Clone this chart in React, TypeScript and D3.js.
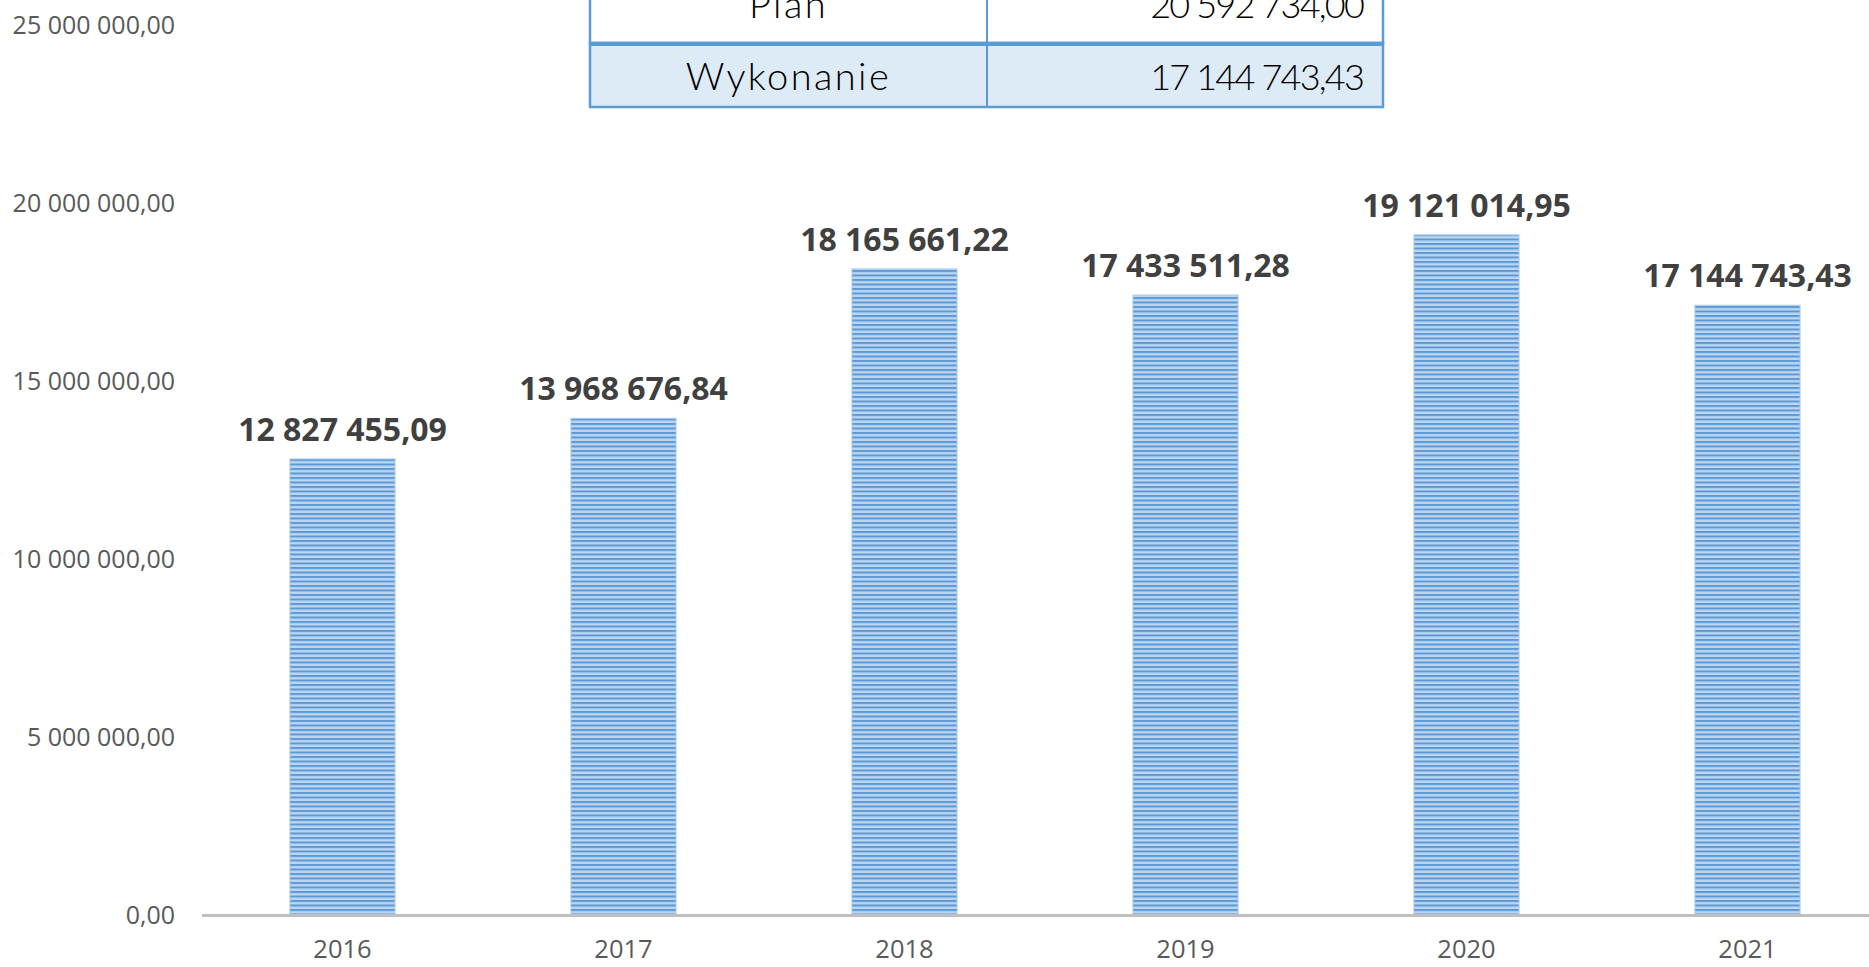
import React, { useEffect, useRef } from 'react';
import * as d3 from 'd3';

const years = ['2016', '2017', '2018', '2019', '2020', '2021'];
const values = [12827455.09, 13968676.84, 18165661.22, 17433511.28, 19121014.95, 17144743.43];
const yTicks = [0, 5000000, 10000000, 15000000, 20000000, 25000000];

const tableLabels = ['Plan', 'Wykonanie'];
const tableValues = [20592734.0, 17144743.43];

const pl = d3.formatLocale({ decimal: ',', thousands: ' ', grouping: [3], currency: ['', ' zł'] });
const fmt = pl.format(',.2f');

export default function App() {
  const svgRef = useRef<SVGSVGElement>(null);

  useEffect(() => {
    const svg = d3.select(svgRef.current);
    svg.selectAll('*').remove();

    const width = 1869;

    const x = d3.scaleBand<string>()
      .domain(years)
      .range([202, 1888])
      .paddingInner(0.626)
      .paddingOuter(0.313);

    const y = d3.scaleLinear()
      .domain([0, 25000000])
      .range([915.6, 25.6]);

    // striped fill like the original
    const defs = svg.append('defs');
    const pat = defs.append('pattern')
      .attr('id', 'stripes')
      .attr('patternUnits', 'userSpaceOnUse')
      .attr('width', 8)
      .attr('height', 4.5);
    pat.append('rect').attr('width', 8).attr('height', 4.5).attr('fill', '#bcd6f0');
    pat.append('rect').attr('y', 0).attr('width', 8).attr('height', 2).attr('fill', '#5b98d5');

    // y tick labels
    svg.append('g')
      .selectAll('text')
      .data(yTicks)
      .enter()
      .append('text')
      .attr('x', 175)
      .attr('y', (d) => y(d))
      .attr('dy', '0.35em')
      .attr('text-anchor', 'end')
      .attr('font-family', '"Open Sans", sans-serif')
      .attr('font-size', 25)
      .attr('fill', '#595959')
      .text((d) => fmt(d));

    // bars
    svg.append('g')
      .selectAll('rect')
      .data(values)
      .enter()
      .append('rect')
      .attr('x', (d, i) => x(years[i])!)
      .attr('y', (d) => y(d))
      .attr('width', x.bandwidth())
      .attr('height', (d) => y(0) - y(d))
      .attr('fill', 'url(#stripes)')
      .attr('stroke', '#a9cbed')
      .attr('stroke-width', 1);

    // axis line
    svg.append('line')
      .attr('x1', 202)
      .attr('x2', width)
      .attr('y1', y(0))
      .attr('y2', y(0))
      .attr('stroke', '#bfbfbf')
      .attr('stroke-width', 3);

    // x labels
    svg.append('g')
      .selectAll('text')
      .data(years)
      .enter()
      .append('text')
      .attr('x', (d) => x(d)! + x.bandwidth() / 2)
      .attr('y', 958)
      .attr('text-anchor', 'middle')
      .attr('font-family', '"Open Sans", sans-serif')
      .attr('font-size', 25.5)
      .attr('fill', '#595959')
      .text((d) => d);

    // data labels
    svg.append('g')
      .selectAll('text')
      .data(values)
      .enter()
      .append('text')
      .attr('x', (d, i) => x(years[i])! + x.bandwidth() / 2)
      .attr('y', (d) => y(d) - 18)
      .attr('text-anchor', 'middle')
      .attr('font-family', '"Open Sans", sans-serif')
      .attr('font-weight', 700)
      .attr('font-size', 32)
      .attr('fill', '#404040')
      .text((d) => fmt(d));

    // table on top (cut at the top edge, as in the source)
    const tbl = svg.append('g');
    const colL = 590, colM = 987, colR = 1383;
    const rowTops = [-21, 43];
    const rowH = 64;
    const rowFills = ['#ffffff', '#ddebf7'];
    tableLabels.forEach((lab, i) => {
      tbl.append('rect')
        .attr('x', colL)
        .attr('y', rowTops[i])
        .attr('width', colR - colL)
        .attr('height', rowH)
        .attr('fill', rowFills[i])
        .attr('stroke', '#5b9bd5')
        .attr('stroke-width', 2.5);
      tbl.append('text')
        .attr('x', (colL + colM) / 2)
        .attr('y', i === 0 ? 18 : 90)
        .attr('text-anchor', 'middle')
        .attr('font-family', 'Lato, sans-serif')
        .attr('font-weight', 300)
        .attr('font-size', 38)
        .attr('letter-spacing', 2.4)
        .attr('fill', '#000')
        .text(lab);
      tbl.append('text')
        .attr('x', colR - 20)
        .attr('y', i === 0 ? 18 : 90)
        .attr('text-anchor', 'end')
        .attr('font-family', 'Lato, sans-serif')
        .attr('font-weight', 300)
        .attr('font-size', 36)
        .attr('letter-spacing', -1.8)
        .attr('fill', '#000')
        .text(fmt(tableValues[i]));
    });
    tbl.append('line')
      .attr('x1', colM).attr('x2', colM)
      .attr('y1', -21).attr('y2', 107)
      .attr('stroke', '#5b9bd5').attr('stroke-width', 2);
    tbl.append('line')
      .attr('x1', colL).attr('x2', colR)
      .attr('y1', 44).attr('y2', 44)
      .attr('stroke', '#5b9bd5').attr('stroke-width', 4);
  }, []);

  return (
    <svg
      ref={svgRef}
      width={1869}
      height={967}
      style={{ position: 'absolute', left: 0, top: 0, display: 'block', background: '#fff' }}
    />
  );
}
